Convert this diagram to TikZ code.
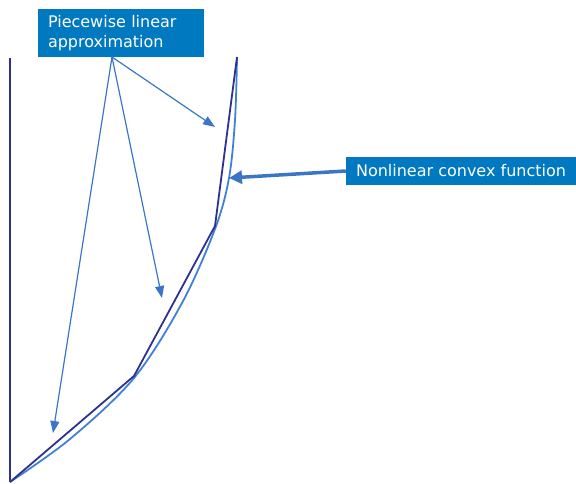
\documentclass[tikz,border=0pt]{standalone}
\usepackage{fontspec}
\setmainfont{DejaVu Sans}
\usepackage{xcolor}
\usetikzlibrary{arrows.meta, positioning, calc}

\definecolor{boxblue}{HTML}{0079C1}
\definecolor{linedark}{HTML}{2E3192}
\definecolor{curveblue}{HTML}{3F82D4}
\definecolor{arrowblue}{HTML}{3B76C6}

\tikzset{
  labelbox/.style={fill=boxblue, text=white, inner sep=0pt, font=\fontsize{16}{20}\selectfont},
  approx/.style={draw=linedark, line width=1.8pt},
  curve/.style={draw=curveblue, line width=1.8pt},
  pointer/.style={-{Triangle[length=12pt,width=9pt]}, arrowblue, line width=1.2pt}
}

\begin{document}
\begin{tikzpicture}[x=1pt, y=-1pt]
\useasboundingbox (0,0) rectangle (576,484);

% Labels
\node[labelbox, minimum width=166pt, minimum height=48pt, text width=146pt, align=left] (piecewise) at (121,33) {Piecewise linear\\approximation};
\node[labelbox, minimum width=230pt, minimum height=28pt] (convex) at (461,171) {Nonlinear convex function};

% Vertical axis
\coordinate (origin) at (10,482);
\coordinate (top) at (10,58);
\draw[approx] (origin) -- (top);

% Convex function
\draw[curve] plot[smooth, tension=0.55] coordinates {(10,482) (70,439) (134,378) (182,303) (215,229) (229,178) (235,120) (237,58)};

% Piecewise linear approximation
\coordinate (p1) at (134,376);
\coordinate (p2) at (215,226);
\coordinate (p3) at (237,57);
\draw[approx] (origin) -- (p1) -- (p2) -- (p3);

% Pointers from the labels
\coordinate (src) at (112,57);
\coordinate (tipA) at (53,433);
\coordinate (tipB) at (162,298);
\coordinate (tipC) at (215,127);
\coordinate (tipD) at (229,178);
\draw[pointer] (src) -- (tipA);
\draw[pointer] (src) -- (tipB);
\draw[pointer] (src) -- (tipC);
\draw[pointer, line width=3.5pt, -{Triangle[length=13pt,width=13pt]}] (convex.west) -- (tipD);
\end{tikzpicture}
\end{document}
